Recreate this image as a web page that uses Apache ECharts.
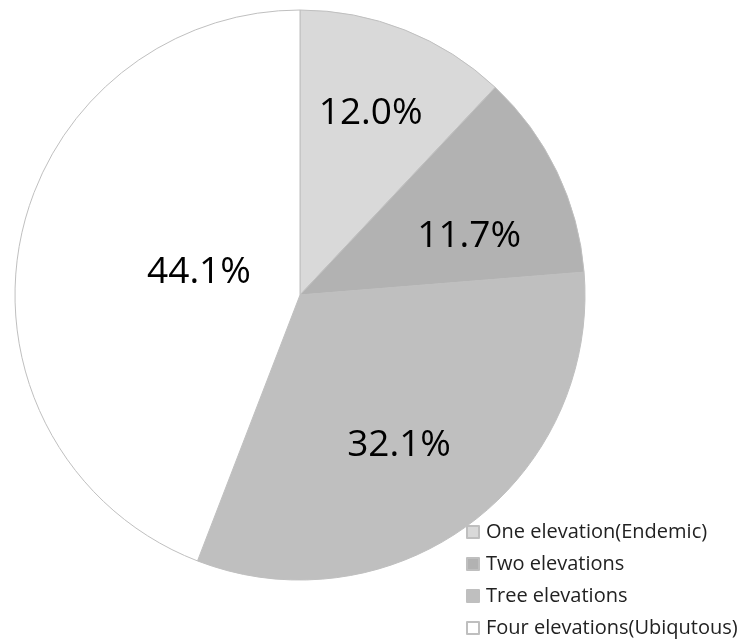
<!DOCTYPE html>
<html><head><meta charset="utf-8">
<script src="https://cdn.jsdelivr.net/npm/echarts@6/dist/echarts.min.js"></script>
<style>html,body{margin:0;padding:0;background:#fff}#c{width:745px;height:641px}</style>
</head><body><div id="c"></div>
<script>
const categories = ['One elevation(Endemic)', 'Two elevations', 'Tree elevations', 'Four elevations(Ubiqutous)'];
const values = [12.0, 11.7, 32.1, 44.1];
const colors = ['#d9d9d9', '#b2b2b2', '#bfbfbf', '#ffffff'];
const labelOffsets = [[17, -46], [38, 4], [12, 34], [42, 4]];

const chart = echarts.init(document.getElementById('c'));
chart.setOption({
  animation: false,
  legend: {
    orient: 'vertical', left: 466, top: 520, padding: 0,
    itemWidth: 12, itemHeight: 12, itemGap: 8,
    icon: 'rect',
    textStyle: { fontFamily: 'Open Sans', fontSize: 20, lineHeight: 24, color: '#222', padding: [0, 0, 0, 2] },
    data: categories
  },
  series: [{
    type: 'pie',
    center: [300, 295], radius: 285,
    startAngle: 90, clockwise: true,
    itemStyle: { borderColor: '#bfbfbf', borderWidth: 1 },
    label: {
      position: 'inside', fontFamily: 'Open Sans', fontSize: 37, color: '#000',
      formatter: p => p.value.toFixed(1) + '%'
    },
    labelLine: { show: false },
    emphasis: { disabled: true },
    data: categories.map((n, i) => ({
      name: n, value: values[i],
      itemStyle: { color: colors[i] },
      label: { offset: labelOffsets[i] }
    }))
  }]
});
</script></body></html>
